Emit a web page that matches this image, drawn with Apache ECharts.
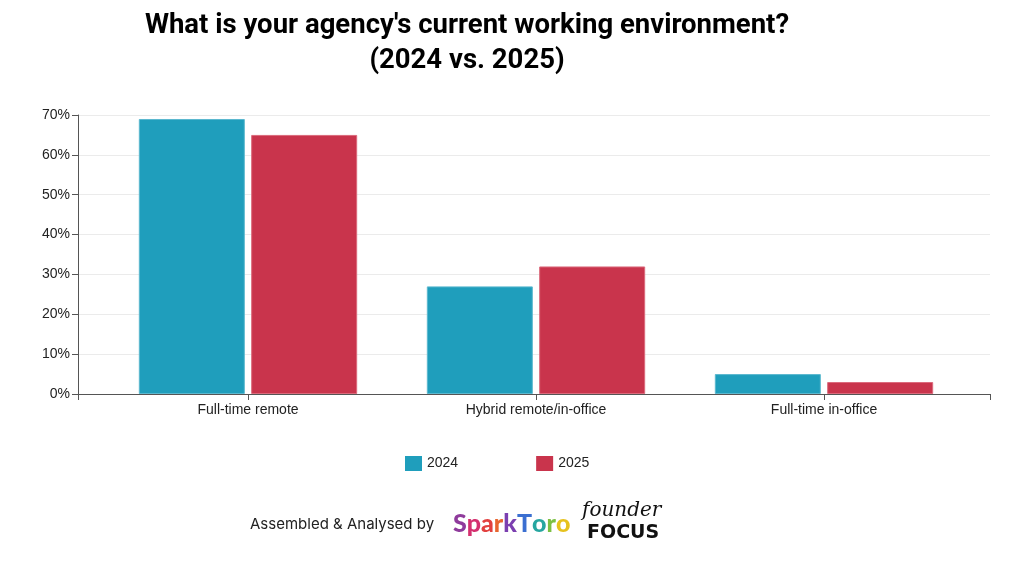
<!DOCTYPE html>
<html>
<head>
<meta charset="utf-8">
<script src="https://cdn.jsdelivr.net/npm/echarts@6/dist/echarts.min.js"></script>
<style>
  html, body { margin: 0; padding: 0; background: #fff; }
  #main { width: 1024px; height: 562px; }
</style>
</head>
<body>
<div id="main"></div>
<script>
// data
var categories = ['Full-time remote', 'Hybrid remote/in-office', 'Full-time in-office'];
var values2024 = [69, 27, 5];
var values2025 = [65, 32, 3];
var yTicks = [0, 10, 20, 30, 40, 50, 60, 70];

// colours of the SparkToro word mark, letter by letter
var sparkLetters = ['S', 'p', 'a', 'r', 'k', 'T', 'o', 'r', 'o'];
var sparkColors = ['#8f3b9c', '#d4306f', '#e2403f', '#e8652e', '#7b3fb0', '#3b6fd1', '#26a6a0', '#7cc043', '#e6c21e'];

var labelFont = 'Liberation Sans, Arial, sans-serif';

var myChart = echarts.init(document.getElementById('main'));

var sparkRich = {};
var sparkText = '';
for (let i = 0; i < sparkLetters.length; i++) {
  sparkRich['c' + i] = {
    fontSize: 25, fontWeight: 900, fontFamily: 'Lato, sans-serif', fill: sparkColors[i]
  };
  sparkText += '{c' + i + '|' + sparkLetters[i] + '}';
}

var option = {
  backgroundColor: '#ffffff',
  animation: false,
  textStyle: { fontFamily: labelFont },
  title: {
    text: "What is your agency's current working environment?\n(2024 vs. 2025)",
    left: 466,
    textAlign: 'center',
    top: 4,
    textStyle: {
      fontFamily: 'Roboto',
      fontWeight: 'bold',
      fontSize: 27.5,
      lineHeight: 35,
      color: '#000'
    }
  },
  legend: {
    data: ['2024', '2025'],
    left: 400,
    top: 451,
    itemWidth: 17,
    itemHeight: 15,
    itemGap: 78,
    icon: 'rect',
    itemStyle: { borderWidth: 0 },
    textStyle: { fontSize: 14, color: '#222', fontFamily: labelFont }
  },
  // grid 0: the frame (axis lines, y labels, grid lines)
  // grid 1: the band area where the bars sit (padded inside the frame)
  grid: [
    { left: 78, right: 34, top: 115, bottom: 168 },
    { left: 104, right: 56, top: 115, bottom: 168 }
  ],
  xAxis: [
    {
      type: 'value', gridIndex: 0, min: 0, max: 1, interval: 1,
      axisLine: { show: true, lineStyle: { color: '#555', width: 1 } },
      axisTick: { show: true, length: 6, lineStyle: { color: '#555' } },
      axisLabel: { show: false },
      splitLine: { show: false }
    },
    {
      type: 'category', gridIndex: 1, data: categories,
      axisLine: { show: false },
      axisTick: { show: true, alignWithLabel: true, length: 6, lineStyle: { color: '#555' } },
      axisLabel: { fontSize: 14, color: '#222', margin: 9, fontFamily: labelFont }
    }
  ],
  yAxis: [
    {
      type: 'value', gridIndex: 0, min: 0, max: 70, interval: 10,
      axisLine: { show: true, lineStyle: { color: '#555', width: 1 } },
      axisTick: { show: true, length: 6, lineStyle: { color: '#555' } },
      axisLabel: {
        fontSize: 14, color: '#222', margin: 8, fontFamily: labelFont,
        formatter: function (v) { return yTicks.indexOf(v) >= 0 ? v + '%' : ''; }
      },
      splitLine: { show: true, lineStyle: { color: '#ebebeb', width: 1 } }
    },
    {
      type: 'value', gridIndex: 1, min: 0, max: 70, interval: 10,
      show: false
    }
  ],
  series: [
    {
      name: '2024', type: 'bar', xAxisIndex: 1, yAxisIndex: 1,
      data: values2024, barWidth: 106, barGap: '6%',
      itemStyle: { color: '#1f9ebc', borderColor: '#5bb8cf', borderWidth: 1 }
    },
    {
      name: '2025', type: 'bar', xAxisIndex: 1, yAxisIndex: 1,
      data: values2025, barWidth: 106, barGap: '6%',
      itemStyle: { color: '#c9344c', borderColor: '#db6a7c', borderWidth: 1 }
    }
  ],
  graphic: [
    {
      type: 'text', left: 250, top: 517,
      style: { text: 'Assembled & Analysed by', fontSize: 15, fill: '#222', fontFamily: 'Inter, Roboto, sans-serif' }
    },
    {
      type: 'text', left: 453, top: 511,
      style: { text: sparkText, rich: sparkRich }
    },
    {
      type: 'text', left: 582, top: 501,
      style: { text: 'founder', fontSize: 20, fontStyle: 'italic', fontFamily: 'DejaVu Serif, serif', fill: '#111' }
    },
    {
      type: 'text', left: 587, top: 524,
      style: { text: 'FOCUS', fontSize: 19, fontWeight: 900, fontFamily: 'DejaVu Sans, sans-serif', fill: '#111' }
    }
  ]
};

// the title block sits a few pixels left of where the textAlign centre puts it
option.title.left = 462;

myChart.setOption(option);
</script>
</body>
</html>
